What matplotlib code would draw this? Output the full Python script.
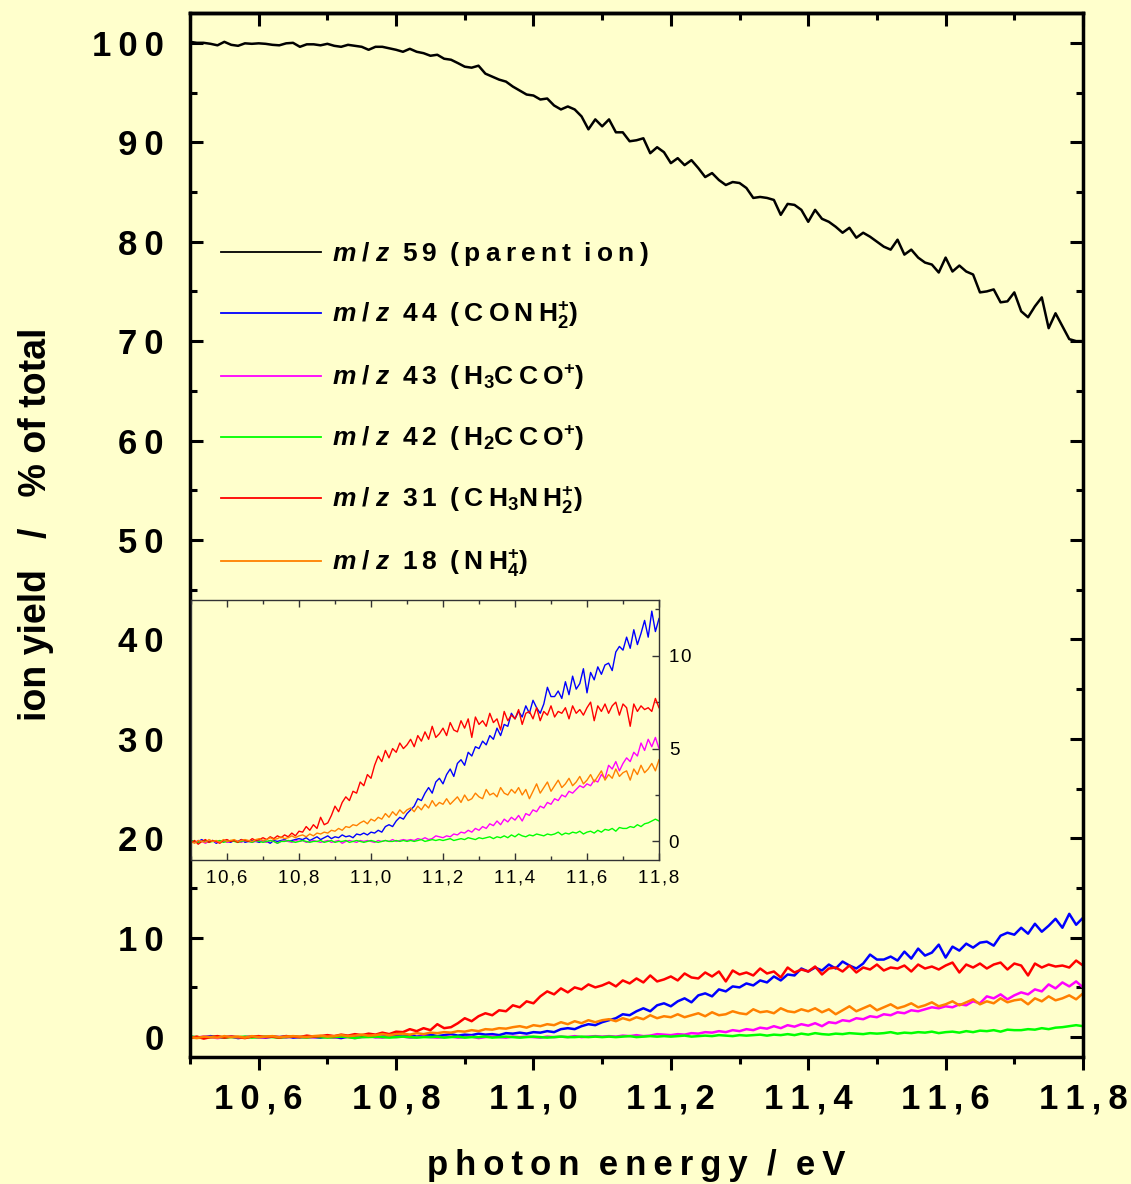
import numpy as np
import matplotlib
matplotlib.use('Agg')
import matplotlib.pyplot as plt
from matplotlib.ticker import MultipleLocator, FuncFormatter

plt.rcParams['font.family'] = ['Liberation Sans', 'DejaVu Sans']
plt.rcParams['mathtext.fontset'] = 'custom'
plt.rcParams['mathtext.rm'] = 'Liberation Sans:bold'
plt.rcParams['mathtext.it'] = 'Liberation Sans:bold:italic'
plt.rcParams['mathtext.bf'] = 'Liberation Sans:bold'

# photon energy grid (eV)
energy = np.round(np.linspace(10.5, 11.8, 131), 2)

# m/z 59 parent ion
parent = [
    100.1, 100.0, 100.0, 99.9, 99.75, 100.1, 99.8, 99.7, 99.95, 99.9,
    99.95, 99.9, 99.8, 99.75, 99.95, 100.0, 99.6, 99.85, 99.85, 99.75,
    99.9, 99.7, 99.6, 99.8, 99.7, 99.6, 99.3, 99.6, 99.6, 99.45,
    99.3, 99.1, 99.4, 99.1, 98.96, 98.7, 98.8, 98.4, 98.3, 97.96,
    97.6, 97.5, 97.7, 96.9, 96.6, 96.3, 96.1, 95.6, 95.2, 94.8,
    94.7, 94.3, 94.4, 93.7, 93.3, 93.6, 93.3, 92.6, 91.3, 92.3,
    91.6, 92.3, 91.0, 91.0, 90.1, 90.2,
    90.4, 88.9, 89.5, 89.0, 87.9, 88.4, 87.7, 88.2, 87.4, 86.5,
    86.9, 86.2, 85.7, 86.0, 85.9, 85.4, 84.4, 84.5, 84.4, 84.2,
    82.7, 83.8, 83.7, 83.2, 82.0, 83.2, 82.3, 82.0, 81.5, 80.9,
    81.4, 80.4, 80.9, 80.5, 80.0, 79.5, 79.2, 80.2, 78.7, 79.2,
    78.4, 77.9, 77.7, 76.9, 78.4, 77.0, 77.6, 77.0, 76.7, 74.9,
    75.0, 75.2, 73.9, 74.0, 74.9, 73.0, 72.4, 73.5, 74.4, 71.3,
    72.8, 71.5, 70.2, 70.0, 70.0,
]

# m/z 44 (CONH2+)
mz44 = [
    0.05, -0.05, 0.0, 0.1, -0.05, 0.0, 0.05, -0.1, 0.0, 0.05,
    0.0, -0.05, 0.05, 0.0, 0.1, -0.05, 0.0, 0.05, 0.0, -0.05,
    0.05, 0.0, -0.1, 0.05, 0.0, 0.05, 0.1, 0.0, 0.05, 0.1, 0.15,
    0.1, 0.2, 0.05, 0.15, 0.25, 0.1, 0.2, 0.3, 0.15, 0.25,
    0.2, 0.35, 0.25, 0.3, 0.2, 0.4, 0.35, 0.45, 0.35, 0.5,
    0.45, 0.6, 0.5, 0.8, 0.9, 0.8, 1.1, 1.3, 1.2, 1.5,
    1.7, 1.9, 2.3, 2.2, 2.6, 2.9, 2.6, 3.2, 3.4, 3.1,
    3.6, 3.9, 3.5, 4.2, 4.4, 4.1, 4.8, 4.6, 5.1, 5.0,
    5.4, 5.2, 5.7, 5.5, 6.1, 5.7, 6.3, 6.2, 6.9, 6.6,
    7.0, 6.7, 7.3, 6.9, 7.6, 7.2, 6.9, 7.4, 8.3, 7.8,
    7.8, 8.1, 7.7, 8.6, 7.9, 8.9, 8.2, 8.5, 9.3, 8.0,
    9.1, 8.7, 9.4, 9.0, 9.5, 9.6, 9.2, 10.2, 10.5, 10.3,
    11.0, 10.4, 11.4, 10.6, 11.2, 11.9, 11.0, 12.4, 11.3, 12.0,
]

# m/z 43 (H3CCO+)
mz43 = [
    0.0, -0.05, 0.05, 0.0, -0.1, 0.0, 0.05, -0.05, 0.0, 0.05,
    -0.05, 0.0, 0.05, 0.0, -0.05, 0.05, 0.0, -0.05, 0.0, 0.05,
    0.0, -0.05, 0.05, 0.0, -0.1, 0.0, 0.05, 0.0, -0.05, 0.05,
    0.0, 0.05, -0.05, 0.0, 0.05, 0.0, -0.05, 0.0, 0.05, -0.05,
    0.0, 0.05, -0.1, 0.0, 0.05, 0.0, -0.05, 0.05, 0.0, 0.05,
    0.0, -0.05, 0.05, 0.0, 0.05, 0.0, 0.1, 0.0, 0.05, 0.1, 0.05,
    0.1, 0.05, 0.15, 0.1, 0.2, 0.1, 0.15, 0.3, 0.25, 0.2,
    0.3, 0.25, 0.4, 0.35, 0.5, 0.45, 0.6, 0.5, 0.7, 0.6,
    0.8, 0.7, 0.95, 0.85, 1.1, 0.9, 1.2, 1.05, 1.3, 1.15,
    1.4, 1.1, 1.5, 1.4, 1.7, 1.6, 1.9, 1.8, 2.1, 2.0,
    2.3, 2.2, 2.5, 2.4, 2.7, 2.6, 2.8, 3.0, 2.9, 3.1,
    3.0, 3.3, 3.2, 3.6, 3.4, 4.1, 3.9, 4.3, 3.8, 4.2,
    4.5, 4.3, 4.8, 4.6, 5.3, 4.9, 5.5, 5.1, 5.6, 5.0,
]

# m/z 42 (H2CCO+)
mz42 = [
    0.05, 0.0, -0.05, 0.0, 0.05, -0.05, 0.0, 0.0, 0.05, -0.05,
    0.0, 0.05, 0.0, -0.05, 0.0, 0.05, 0.0, -0.05, 0.05, 0.0,
    -0.05, 0.0, 0.05, 0.0, -0.1, 0.0, 0.0, 0.05, 0.0, -0.05,
    0.0, 0.05, 0.0, -0.05, 0.0, 0.0, 0.05, -0.05, 0.0, 0.05,
    -0.05, 0.0, 0.0, 0.05, -0.05, 0.0, 0.05, 0.0, -0.05, 0.0,
    0.05, 0.0, -0.05, 0.0, 0.05, 0.0, 0.0, 0.05, 0.0, 0.05, 0.0,
    0.05, 0.0, 0.05, 0.1, 0.0, 0.05, 0.1, 0.05, 0.1, 0.05,
    0.1, 0.15, 0.05, 0.1, 0.15, 0.1, 0.2, 0.15, 0.1, 0.2,
    0.15, 0.2, 0.25, 0.15, 0.25, 0.2, 0.3, 0.2, 0.35, 0.25,
    0.4, 0.3, 0.25, 0.35, 0.3, 0.4, 0.35, 0.3, 0.4, 0.35,
    0.4, 0.5, 0.35, 0.45, 0.4, 0.5, 0.45, 0.55, 0.4, 0.5,
    0.55, 0.45, 0.6, 0.5, 0.65, 0.6, 0.7, 0.55, 0.75, 0.7,
    0.7, 0.8, 0.75, 0.9, 0.8, 0.95, 1.0, 1.1, 1.2, 1.1,
]

# m/z 31 (CH3NH2+)
mz31 = [
    -0.1, 0.05, -0.15, 0.0, 0.1, -0.05, 0.05, 0.0, -0.1, 0.05,
    0.1, 0.0, 0.05, -0.05, 0.1, 0.05, 0.0, 0.15, 0.05, 0.1, 0.2,
    0.1, 0.25, 0.15, 0.3, 0.2, 0.35, 0.25, 0.45, 0.3, 0.55,
    0.5, 0.8, 0.6, 0.9, 0.7, 1.3, 0.9, 1.0, 1.4, 1.9,
    1.6, 2.1, 2.4, 2.2, 2.7, 2.6, 3.2, 3.0, 3.6, 3.4,
    4.1, 4.6, 4.3, 4.9, 4.5, 5.0, 4.8, 5.3, 5.0, 5.2,
    5.5, 5.1, 5.7, 5.4, 5.9, 5.5, 6.2, 5.6, 5.8, 6.1,
    5.7, 6.4, 6.0, 5.9, 6.5, 6.1, 6.6, 5.6, 6.7, 6.3,
    6.5, 6.2, 6.9, 6.4, 6.6, 6.0, 7.0, 6.5, 6.8, 6.6,
    7.1, 6.3, 6.9, 7.0, 6.6, 7.2, 6.5, 7.0, 6.8, 7.3,
    6.7, 7.0, 6.9, 7.2, 6.6, 7.3, 6.9, 7.1, 6.8, 7.2,
    7.5, 6.5, 7.3, 7.0, 7.4, 6.9, 7.3, 7.5, 6.8, 7.4,
    7.2, 6.2, 7.4, 7.0, 7.3, 7.1, 7.2, 7.0, 7.7, 7.2,
]

# m/z 18 (NH4+)
mz18 = [
    0.0, -0.1, 0.05, 0.0, -0.05, 0.1, 0.0, 0.05, -0.05, 0.1,
    0.0, 0.05, 0.1, 0.0, 0.05, 0.1, 0.05, 0.0, 0.1, 0.15, 0.05,
    0.1, 0.2, 0.1, 0.15, 0.25, 0.15, 0.2, 0.3, 0.2, 0.3,
    0.35, 0.25, 0.4, 0.3, 0.45, 0.4, 0.5, 0.45, 0.6, 0.55,
    0.7, 0.6, 0.8, 0.75, 0.9, 0.85, 1.0, 1.1, 0.95, 1.2,
    1.1, 1.3, 1.2, 1.5, 1.3, 1.6, 1.4, 1.7, 1.5, 1.7,
    1.8, 1.6, 1.9, 1.7, 2.0, 1.8, 2.2, 1.9, 2.1, 2.0,
    2.3, 2.0, 2.2, 2.4, 2.1, 2.5, 2.2, 2.3, 2.6, 2.4,
    2.3, 2.8, 2.5, 2.6, 2.4, 2.9, 2.6, 2.5, 2.8, 2.6,
    2.9, 2.5, 2.8, 2.3, 2.7, 3.1, 2.6, 2.9, 3.2, 2.7,
    3.0, 3.3, 2.9, 3.1, 3.4, 3.0, 3.2, 3.5, 3.1, 3.3,
    3.6, 3.2, 3.5, 3.8, 3.3, 3.6, 3.4, 3.9, 3.5, 3.7,
    3.8, 3.3, 3.9, 3.6, 4.1, 3.7, 3.9, 4.2, 3.8, 4.4,
]

TS = '\u2009'   # thin space for letter spacing
HS = '\u200a'   # hair space


def spaced(s, sep=TS):
    return sep.join(s)


def spaced_words(s, sep=TS):
    return '  '.join(spaced(w, sep) for w in s.split(' '))


GAP = r'$\;\;$'
MZ = r'$\it{m\;/\;z}\;\;$'
series = [
    (parent, 'black', MZ + spaced('59') + GAP + spaced('(parent') + GAP + spaced('ion)')),
    (mz44, '#0000FF', MZ + spaced('44') + GAP + spaced('(CONH') + r'$_{2}^{+}$' + ')'),
    (mz43, '#FF00FF', MZ + spaced('43') + GAP + spaced('(H') + r'$_{3}$' + spaced('CCO') + r'$^{+}$' + ')'),
    (mz42, '#00FF00', MZ + spaced('42') + GAP + spaced('(H') + r'$_{2}$' + spaced('CCO') + r'$^{+}$' + ')'),
    (mz31, '#FF0000', MZ + spaced('31') + GAP + spaced('(CH') + r'$_{3}$' + spaced('NH') + r'$_{2}^{+}$' + ')'),
    (mz18, '#FF8000', MZ + spaced('18') + GAP + spaced('(NH') + r'$_{4}^{+}$' + ')'),
]

BG = '#FFFFCC'
fig = plt.figure(figsize=(11.31, 11.84), dpi=100, facecolor=BG)
ax = fig.add_axes([190 / 1131, (1184 - 1057) / 1184, 893 / 1131, 1044 / 1184])
ax.set_facecolor(BG)

for ys, col, lab in series:
    ax.plot(energy, ys, color=col, lw=1.8, label=lab)

ax.set_xlim(10.5, 11.8)
ax.set_ylim(-2, 103)

comma = FuncFormatter(lambda v, p: spaced(f'{v:.1f}'.replace('.', ',')))
intf = FuncFormatter(lambda v, p: spaced(f'{v:.0f}'))
comma_s = FuncFormatter(lambda v, p: spaced(f'{v:.1f}'.replace('.', ','), HS))
intf_s = FuncFormatter(lambda v, p: spaced(f'{v:.0f}', HS))

ax.xaxis.set_major_locator(MultipleLocator(0.2))
ax.xaxis.set_minor_locator(MultipleLocator(0.1))
ax.yaxis.set_major_locator(MultipleLocator(10))
ax.yaxis.set_minor_locator(MultipleLocator(5))
ax.xaxis.set_major_formatter(comma)
ax.yaxis.set_major_formatter(intf)

for sp in ax.spines.values():
    sp.set_linewidth(2.5)

ax.tick_params(axis='x', which='both', direction='out', top=False, width=2.2, labelsize=25, pad=9)
ax.tick_params(axis='x', which='major', length=9.5)
ax.tick_params(axis='x', which='minor', length=5)
ax.tick_params(axis='y', which='both', direction='in', left=True, right=True, width=2.2,
               labelsize=25, pad=19)
ax.tick_params(axis='y', which='major', length=9.5)
ax.tick_params(axis='y', which='minor', length=5)
for t in ax.get_xticklabels() + ax.get_yticklabels():
    t.set_fontweight('bold')

top = ax.secondary_xaxis('top')
top.xaxis.set_major_locator(MultipleLocator(0.2))
top.xaxis.set_minor_locator(MultipleLocator(0.1))
top.tick_params(axis='x', which='both', direction='in', width=2.2, labeltop=False)
top.tick_params(axis='x', which='major', length=9.5)
top.tick_params(axis='x', which='minor', length=5)
top.spines['top'].set_linewidth(2.5)

ax.set_xlabel(spaced_words('photon energy / eV'), fontsize=25, fontweight='bold', labelpad=24)
ax.set_ylabel('ion yield   /   % of total', fontsize=27, fontweight='bold', labelpad=26)
ax.yaxis.set_label_coords(-0.152, 0.51)

leg = ax.legend(loc='upper left', bbox_to_anchor=(0.02, 0.795), frameon=False,
                prop={'size': 19, 'weight': 'bold'}, handlelength=3.8,
                handletextpad=0.4, labelspacing=1.2, borderpad=0)
for ln in leg.get_lines():
    ln.set_linewidth(1.3)

# inset
ins = fig.add_axes([191 / 1131, (1184 - 860) / 1184, 468 / 1131, 260 / 1184])
ins.set_facecolor(BG)
for ys, col, lab in series[1:]:
    ins.plot(energy, ys, color=col, lw=1.0)
ins.set_xlim(10.5, 11.8)
ins.set_ylim(-1, 13)
ins.xaxis.set_major_locator(MultipleLocator(0.2))
ins.xaxis.set_minor_locator(MultipleLocator(0.1))
ins.yaxis.set_major_locator(MultipleLocator(5))
ins.yaxis.set_minor_locator(MultipleLocator(2.5))
ins.xaxis.set_major_formatter(comma_s)
ins.yaxis.set_major_formatter(intf_s)
ins.yaxis.tick_right()
ins.tick_params(axis='x', which='both', direction='in', top=True, bottom=True,
                labelsize=13.5, color='#333333', width=1.0, pad=7)
ins.tick_params(axis='y', which='both', direction='in', right=True, left=False,
                labelright=True, labelleft=False, labelsize=13.5, color='#333333', width=1.0, pad=7)
ins.tick_params(which='major', length=5)
ins.tick_params(which='minor', length=3)
for sp in ins.spines.values():
    sp.set_linewidth(1.0)
    sp.set_color('#333333')

fig.savefig('out.png', dpi=100, facecolor=BG)
